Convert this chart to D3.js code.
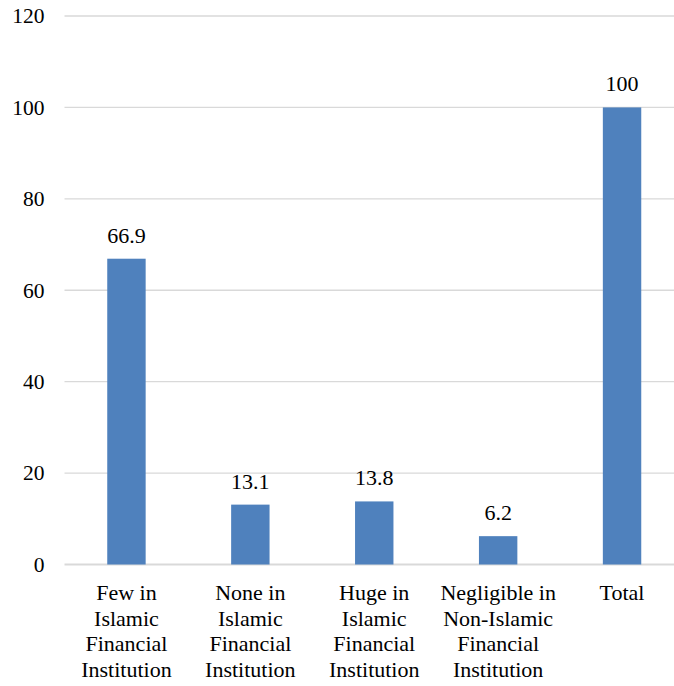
<!DOCTYPE html>
<html>
<head>
<meta charset="utf-8">
<script src="https://cdn.jsdelivr.net/npm/d3@7"></script>
<style>
  body { margin: 0; background: #fff; }
</style>
</head>
<body>
<div class="chart"></div>
<script>
// data
const categories = [
  'Few in Islamic Financial Institution',
  'None in Islamic Financial Institution',
  'Huge in Islamic Financial Institution',
  'Negligible in Non-Islamic Financial Institution',
  'Total'
];
const categoryLines = [
  ['Few in', 'Islamic', 'Financial', 'Institution'],
  ['None in', 'Islamic', 'Financial', 'Institution'],
  ['Huge in', 'Islamic', 'Financial', 'Institution'],
  ['Negligible in', 'Non-Islamic', 'Financial', 'Institution'],
  ['Total']
];
const values = [66.9, 13.1, 13.8, 6.2, 100];
const valueLabels = ['66.9', '13.1', '13.8', '6.2', '100'];
const yTicks = [0, 20, 40, 60, 80, 100, 120];

const W = 674, H = 686;
const plotLeft = 64.5, plotRight = 684, plotTop = 16, zeroY = 564.5;
const FONT = '"Liberation Serif"';

const svg = d3.select('.chart').append('svg')
    .attr('width', W)
    .attr('height', H);

const x = d3.scaleBand()
    .domain(categories)
    .range([plotLeft, plotRight])
    .paddingInner(0.69)
    .paddingOuter(0.345);

const y = d3.scaleLinear()
    .domain([0, 120])
    .range([zeroY, plotTop]);

// gridlines
svg.append('g')
  .selectAll('line')
  .data(yTicks)
  .enter().append('line')
    .attr('x1', plotLeft)
    .attr('x2', plotRight)
    .attr('y1', d => y(d))
    .attr('y2', d => y(d))
    .attr('stroke', '#d9d9d9')
    .attr('stroke-width', d => d === 0 ? 2 : 1.4);

// y axis labels
const yAxis = d3.axisLeft(y).tickValues(yTicks).tickSize(0).tickPadding(0);
svg.append('g')
    .attr('transform', 'translate(44.5,0)')
    .call(yAxis)
    .call(g => g.select('.domain').remove())
    .selectAll('text')
      .style('font-family', FONT)
      .style('font-size', '21.5px')
      .attr('fill', '#000');

// bars
svg.append('g')
  .selectAll('rect')
  .data(values)
  .enter().append('rect')
    .attr('x', (d, i) => x(categories[i]))
    .attr('width', x.bandwidth())
    .attr('y', d => y(d))
    .attr('height', d => zeroY - y(d))
    .attr('fill', '#4f81bd');

// value labels
svg.append('g')
  .selectAll('text')
  .data(values)
  .enter().append('text')
    .attr('x', (d, i) => x(categories[i]) + x.bandwidth() / 2)
    .attr('y', d => y(d) - 16)
    .attr('text-anchor', 'middle')
    .style('font-family', FONT)
    .style('font-size', '22px')
    .attr('fill', '#000')
    .text((d, i) => valueLabels[i]);

// category labels
const cat = svg.append('g')
  .selectAll('text')
  .data(categories)
  .enter().append('text')
    .attr('text-anchor', 'middle')
    .style('font-family', FONT)
    .style('font-size', '22px')
    .attr('fill', '#000')
    .attr('x', d => x(d) + x.bandwidth() / 2)
    .attr('y', 600);

cat.selectAll('tspan')
  .data((d, i) => categoryLines[i])
  .enter().append('tspan')
    .attr('x', function () { return this.parentNode.getAttribute('x'); })
    .attr('dy', (d, j) => j === 0 ? 0 : 25.5)
    .text(d => d);
</script>
</body>
</html>
